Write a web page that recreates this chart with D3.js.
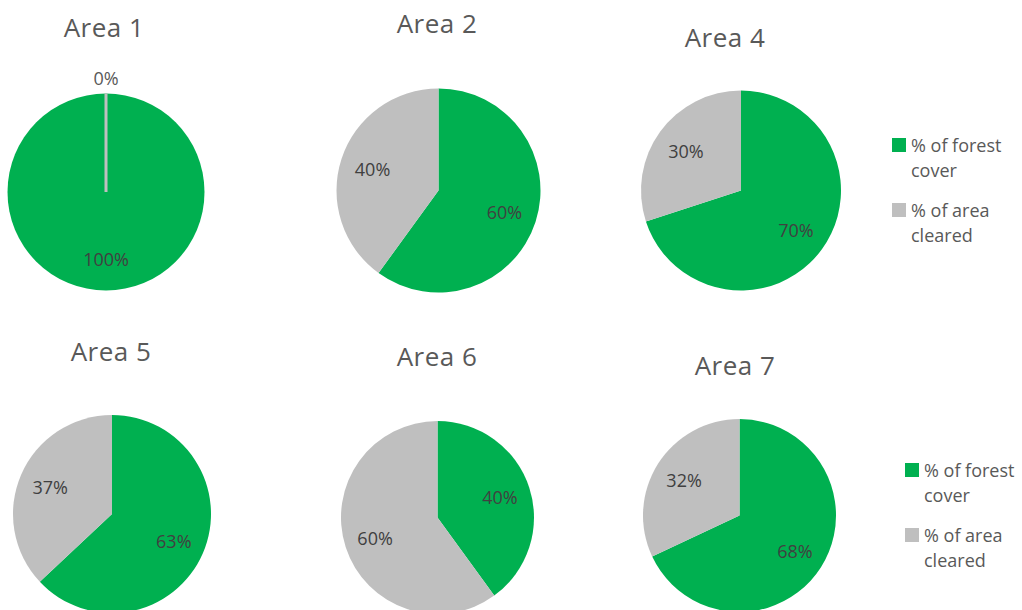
<!DOCTYPE html>
<html>
<head>
<meta charset="utf-8">
<script src="https://cdn.jsdelivr.net/npm/d3@7"></script>
<style>
  html, body { margin: 0; padding: 0; background: #ffffff; }
  svg { display: block; font-family: "Open Sans", "Noto Sans", sans-serif; }
</style>
</head>
<body>
<svg id="chart" width="1022" height="610"></svg>
<script>
// ---- data ----
const areas = ["Area 1", "Area 2", "Area 4", "Area 5", "Area 6", "Area 7"];
const forestCover = [100, 60, 70, 63, 40, 68];
const areaCleared = [0, 40, 30, 37, 60, 32];
const seriesNames = ["% of forest cover", "% of area cleared"];
const legendLines = [["% of forest", "cover"], ["% of area", "cleared"]];

// ---- layout (positions/styles) ----
const pieLayout = [
  { cx: 106,   cy: 192,   r: 98.5, tx: 104, ty: 37 },
  { cx: 438.5, cy: 190.5, r: 102,  tx: 437, ty: 33 },
  { cx: 741,   cy: 190.5, r: 100,  tx: 725, ty: 47 },
  { cx: 112,   cy: 514,   r: 99,   tx: 111, ty: 361 },
  { cx: 437.5, cy: 517.5, r: 96.5, tx: 437, ty: 366 },
  { cx: 739.5, cy: 515.5, r: 96.5, tx: 735, ty: 375 }
];
const legendLayout = [
  { x: 892, y: 138 },
  { x: 905, y: 463 }
];
const colors = d3.scaleOrdinal().domain(seriesNames).range(["#00B050", "#BFBFBF"]);

const svg = d3.select("#chart");
const pie = d3.pie().sort(null).value(d => d.value);

areas.forEach((name, i) => {
  const L = pieLayout[i];
  const data = [
    { series: seriesNames[0], value: forestCover[i] },
    { series: seriesNames[1], value: areaCleared[i] }
  ];
  const arcs = pie(data);
  const arc = d3.arc().innerRadius(0).outerRadius(L.r);
  const labelArc = d3.arc().innerRadius(L.r * 0.68).outerRadius(L.r * 0.68);

  const g = svg.append("g").attr("transform", `translate(${L.cx},${L.cy})`);

  g.selectAll("path.slice")
    .data(arcs)
    .enter().append("path")
    .attr("class", "slice")
    .attr("d", arc)
    .attr("fill", d => colors(d.data.series))
    .attr("stroke", d => d.data.value === 0 ? colors(d.data.series) : "none")
    .attr("stroke-width", d => d.data.value === 0 ? 3 : 0);

  g.selectAll("text.lbl")
    .data(arcs)
    .enter().append("text")
    .attr("class", "lbl")
    .attr("transform", d => {
      if (d.data.value === 0) {
        const a = d.startAngle;
        const rr = L.r + 16;
        return `translate(${Math.sin(a) * rr},${-Math.cos(a) * rr})`;
      }
      const c = labelArc.centroid(d);
      return `translate(${c[0]},${c[1]})`;
    })
    .attr("text-anchor", "middle")
    .attr("dominant-baseline", "central")
    .attr("font-size", 18)
    .attr("fill", d => d.data.value === 0 ? "#595959" : "#404040")
    .text(d => d.data.value + "%");

  svg.append("text")
    .attr("x", L.tx)
    .attr("y", L.ty)
    .attr("text-anchor", "middle")
    .attr("font-size", 26)
    .attr("letter-spacing", 0.5)
    .attr("fill", "#595959")
    .text(name);
});

legendLayout.forEach(pos => {
  const lg = svg.append("g").attr("transform", `translate(${pos.x},${pos.y})`);
  seriesNames.forEach((s, k) => {
    const oy = k * 65;
    lg.append("rect")
      .attr("x", 0).attr("y", oy)
      .attr("width", 14).attr("height", 14)
      .attr("fill", colors(s));
    legendLines[k].forEach((line, j) => {
      lg.append("text")
        .attr("x", 19)
        .attr("y", oy + 14 + j * 25)
        .attr("font-size", 18)
        .attr("fill", "#595959")
        .text(line);
    });
  });
});
</script>
</body>
</html>
